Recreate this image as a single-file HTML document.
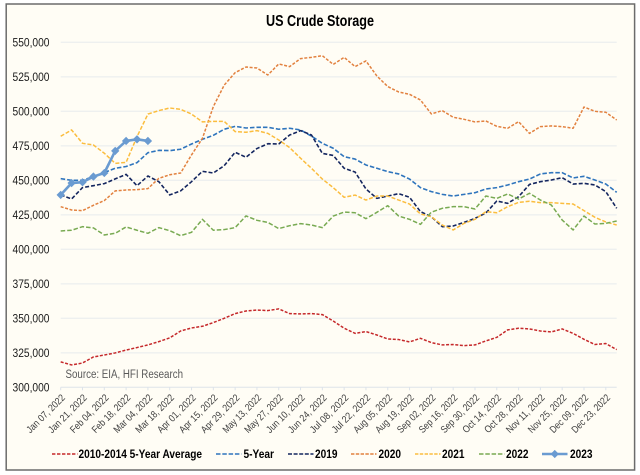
<!DOCTYPE html>
<html lang="en">
<head>
<meta charset="utf-8">
<title>US Crude Storage</title>
<style>
html,body{margin:0;padding:0;background:#fff;width:640px;height:475px;overflow:hidden}
svg{display:block;font-family:"Liberation Sans",sans-serif}
</style>
</head>
<body>
<svg id="chart" width="640" height="475" viewBox="0 0 640 475" xmlns="http://www.w3.org/2000/svg">
  <rect x="6.2" y="4" width="628.4" height="466" fill="#fffdf5" stroke="#6b6b6b" stroke-width="1.5"/>
  <text x="320" y="26" text-anchor="middle" font-size="15.5" font-weight="700" fill="#000" textLength="108" lengthAdjust="spacingAndGlyphs">US Crude Storage</text>
  <g id="grid"></g>
  <g id="yaxis"></g>
  <g id="xaxis"></g>
  <g id="series"></g>
  <text x="65.5" y="378" font-size="11.5" fill="#595959" textLength="117.5" lengthAdjust="spacingAndGlyphs">Source: EIA, HFI Research</text>
  <g id="legend"></g>
</svg>
<script>
const yTicks = [300000,325000,350000,375000,400000,425000,450000,475000,500000,525000,550000];
const xTickLabels = ["Jan 07, 2022","Jan 21, 2022","Feb 04, 2022","Feb 18, 2022","Mar 04, 2022","Mar 18, 2022","Apr 01, 2022","Apr 15, 2022","Apr 29, 2022","May 13, 2022","May 27, 2022","Jun 10, 2022","Jun 24, 2022","Jul 08, 2022","Jul 22, 2022","Aug 05, 2022","Aug 19, 2022","Sep 02, 2022","Sep 16, 2022","Sep 30, 2022","Oct 14, 2022","Oct 28, 2022","Nov 11, 2022","Nov 25, 2022","Dec 09, 2022","Dec 23, 2022"];
const avg2010to2014 = [318.4,316.2,317.6,322,323.4,324.9,327,328.8,330.7,333.1,335.8,340.8,343,344.2,346.9,350,353.4,355.3,356,355.6,356.8,353.4,353.2,353.4,352.7,348,342.8,339.1,340.4,337.9,335,334.6,332.9,335.5,332.4,330.7,331,330.2,330.7,333.6,336.2,341.6,342.8,342.3,340.8,340.1,342.3,339.1,334.8,331,331.7,327.3];
const fiveYear = [451.2,450,450,452.7,455.6,458.7,460,462.8,470,471.7,471.5,472.5,476.3,479.7,482.6,487,489.1,487.9,488.4,488.4,487,487.7,486.5,482,476.8,473.2,467.1,465.4,461.1,458.7,456.3,454.6,450.9,444.7,441.8,439.8,438.6,439.8,441,443.7,444.7,446.6,449,450.9,454.6,455.5,455.5,451.7,452.9,450.2,447.3,441.3];
const y2019 = [439.4,436.5,444.7,446.1,447.6,451,454.3,446.1,453.1,449,439.4,442.3,449,456.5,455.3,460.6,470.3,466.7,473,476.5,476.3,482.8,486,482.8,469.5,468,458.7,456,443.7,436.9,438.6,440.3,437.7,427.3,423.6,416.4,416.9,419.5,422.4,426.3,435,433.3,438.1,447,449,450.2,451.9,447.3,447.8,446.6,441.8,429.7];
const y2020 = [430.9,428.5,428,431.9,435.3,442.3,443,443.2,444,451.4,454,455.3,468.4,480.4,503.4,519,528,532.1,531.4,526.3,534.3,532.4,538.2,539.1,540.3,534,539.1,532.4,536.5,525.6,517.9,514,512.3,508.2,498.1,500.5,495.7,494.2,492.3,493,489.1,487.7,492.5,484,488.9,489.4,488.9,487.7,503.1,500,499.3,493.7];
const y2021 = [481.9,486.5,476.8,475.6,469.6,462.3,463,481.6,498,500.5,502.4,501.4,498,492.3,492.7,492.7,485.3,484.8,486,484,479.2,473.7,466,458.7,450.9,444.7,437.7,439.3,435.7,438.6,438.6,435.7,432.8,425.6,423.6,417.6,414,418.8,421.7,427.3,426.5,430.9,434,434.8,433.8,433.8,433.3,432.8,428,423.2,419.8,417.6];
const y2022 = [413.3,413.8,416.4,415.5,410.4,411.6,416.2,413.8,411.6,415.7,413.5,409.9,412.3,421.7,413.8,414.3,415.7,424.2,421,419.5,415,417.1,418.6,417.6,415.7,424.1,427,426.5,422.2,426.8,431.6,424.1,421.7,418.1,426.9,429.7,430.9,430.9,429.2,438.6,436.9,440.1,436.4,440.6,435.7,432.1,421.2,414,424.1,418.3,418.8,420.5];
const y2023 = [439.4,448,448.6,452.7,455.3,471.3,478.5,479.7,478.5];

const NS = "http://www.w3.org/2000/svg";
const plotLeft = 60.7, plotRight = 616.7, plotTop = 42.3, plotBottom = 387.3;
const weekCount = avg2010to2014.length;
function xScale(i){ return plotLeft + i * (plotRight - plotLeft) / (weekCount - 1); }
function yScale(v){ return plotBottom - (v - 300000) * (plotBottom - plotTop) / 250000; }
function yScaleK(v){ return yScale(v * 1000); }
function make(tag, attrs, parent){
  const el = document.createElementNS(NS, tag);
  for (const k in attrs) el.setAttribute(k, attrs[k]);
  parent.appendChild(el);
  return el;
}

const grid = document.getElementById("grid");
const yaxis = document.getElementById("yaxis");
const xaxis = document.getElementById("xaxis");
const seriesGroup = document.getElementById("series");
const legend = document.getElementById("legend");

yTicks.forEach(function(t){
  const y = yScale(t);
  if (t !== 300000) {
    const g = make("line", {x1: plotLeft, x2: plotRight, y1: y, y2: y, stroke: "#eef0ef", "stroke-width": 1.3}, grid);
    
    
  }
  const lab = make("text", {x: 49.5, y: y + 4, "text-anchor": "end", "font-size": 11.5, fill: "#1a1a1a", textLength: 37, lengthAdjust: "spacingAndGlyphs"}, yaxis);
  lab.textContent = t.toLocaleString("en-US");
  
  
});

const axisLine = make("line", {x1: plotLeft, x2: plotRight, y1: plotBottom, y2: plotBottom, stroke: "#dde3ea", "stroke-width": 1}, xaxis);



xTickLabels.forEach(function(label, n){
  const x = xScale(n * 2);
  const tick = make("line", {x1: x, x2: x, y1: plotBottom, y2: plotBottom + 3, stroke: "#dde3ea", "stroke-width": 1}, xaxis);
  
  
  const ax = x + 5, ay = plotBottom + 11;
  const lab = make("text", {x: ax, y: ay, "text-anchor": "end", "font-size": 10, fill: "#404040", textLength: 50, lengthAdjust: "spacingAndGlyphs", transform: "rotate(-45 " + ax + " " + ay + ")"}, xaxis);
  lab.textContent = label;
  
  
});

function drawLine(values, color, width, dash){
  const pts = values.map(function(v, i){ return xScale(i).toFixed(2) + "," + yScaleK(v).toFixed(2); }).join(" ");
  const attrs = {points: pts, fill: "none", stroke: color, "stroke-width": width, "stroke-linejoin": "round"};
  if (dash) attrs["stroke-dasharray"] = dash;
  return make("polyline", attrs, seriesGroup);
}

const line2010 = drawLine(avg2010to2014, "#c5282a", 1.5, "3 1.6");


const line5y = drawLine(fiveYear, "#2f75bd", 1.6, "4.5 2");


const line2019 = drawLine(y2019, "#14265f", 1.6, "4 2");


const line2020 = drawLine(y2020, "#e2813f", 1.5, "3 1.6");


const line2021 = drawLine(y2021, "#fbbd3e", 1.5, "4 1.8");


const line2022 = drawLine(y2022, "#78aa52", 1.5, "4.5 2");


const line2023 = drawLine(y2023, "#6a9bd1", 2.6, "");



function diamond(cx, cy, r, parent){
  return make("polygon", {points: (cx-r)+","+cy+" "+cx+","+(cy-r)+" "+(cx+r)+","+cy+" "+cx+","+(cy+r), fill: "#6a9bd1", stroke: "#6a9bd1", "stroke-width": 0.8}, parent);
}
y2023.forEach(function(v, i){
  const m = diamond(xScale(i), yScaleK(v), 3.6, seriesGroup);
  
  
});

const legendNames = ["2010-2014 5-Year Average","5-Year","2019","2020","2021","2022","2023"];
const legendColors = ["#c5282a","#2f75bd","#14265f","#e2813f","#fbbd3e","#78aa52","#6a9bd1"];
const legendDash = ["3.4 1.6","4.5 1.8","4 1.6","3.4 1.4","3.4 1.4","4.5 1.8",""];
const legendLineX = [52,216,288,351,415,479,542];
const legendTextX = [78.5,243.5,315,378.5,442,506,570];
const legendTextW = [123.5,30.5,22.5,22.5,22.5,22.5,22.5];
legendNames.forEach(function(name, i){
  const y = 454;
  const attrs = {x1: legendLineX[i], x2: legendLineX[i] + 25.5, y1: y, y2: y, stroke: legendColors[i], "stroke-width": i === 6 ? 2.6 : 1.5};
  if (legendDash[i]) attrs["stroke-dasharray"] = legendDash[i];
  const key = make("line", attrs, legend);
  
  
  if (i === 6) {
    const d = diamond(legendLineX[i] + 12.75, y, 3.6, legend);
    
    
  }
  const t = make("text", {x: legendTextX[i], y: y + 4, "font-size": 11.5, "font-weight": 700, fill: "#000", textLength: legendTextW[i], lengthAdjust: "spacingAndGlyphs"}, legend);
  t.textContent = name;
  
  
});
</script>
</body>
</html>
